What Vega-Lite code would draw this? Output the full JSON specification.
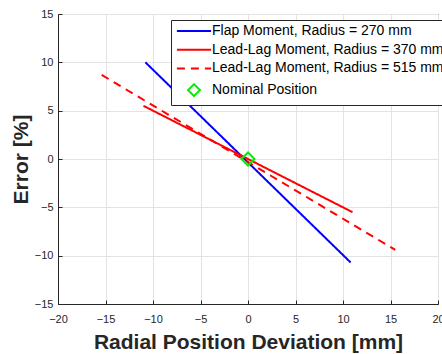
{
  "$schema": "https://vega.github.io/schema/vega-lite/v6.json",
  "width": 380,
  "height": 290,
  "autosize": {"type": "none"},
  "padding": {"left": 58, "top": 14, "right": 4, "bottom": 50},
  "background": "white",
  "config": {
    "font": "Liberation Sans",
    "view": {"stroke": "#262626", "strokeWidth": 1},
    "axis": {
      "domainColor": "#262626",
      "tickColor": "#262626",
      "labelColor": "#262626",
      "titleColor": "#262626",
      "labelFont": "Liberation Sans",
      "titleFont": "Liberation Sans",
      "labelFontSize": 11,
      "titleFontSize": 21,
      "titleFontWeight": "bold",
      "gridColor": "#e3e3e3",
      "gridWidth": 1,
      "tickSize": -4
    }
  },
  "data": {
    "values": [
      {"x": -10.8, "y": 10.0, "s": "Flap Moment, Radius = 270 mm"},
      {"x": 10.8, "y": -10.7, "s": "Flap Moment, Radius = 270 mm"},
      {"x": -11.0, "y": 5.5, "s": "Lead-Lag Moment, Radius = 370 mm"},
      {"x": 11.0, "y": -5.5, "s": "Lead-Lag Moment, Radius = 370 mm"},
      {"x": -15.4, "y": 8.7, "s": "Lead-Lag Moment, Radius = 515 mm"},
      {"x": 15.5, "y": -9.4, "s": "Lead-Lag Moment, Radius = 515 mm"},
      {"x": 0, "y": 0, "s": "Nominal Position"}
    ]
  },
  "encoding": {
    "x": {
      "field": "x", "type": "quantitative",
      "scale": {"domain": [-20, 20], "nice": false},
      "axis": {"values": [-20, -15, -10, -5, 0, 5, 10, 15, 20], "title": "Radial Position Deviation [mm]", "labelPadding": 13, "titlePadding": 7, "labelFlush": false}
    },
    "y": {
      "field": "y", "type": "quantitative",
      "scale": {"domain": [-15, 15], "nice": false},
      "axis": {"values": [-15, -10, -5, 0, 5, 10, 15], "title": "Error [%]", "labelPadding": 9, "titlePadding": 3}
    },
    "color": {
      "field": "s", "type": "nominal",
      "scale": {
        "domain": ["Flap Moment, Radius = 270 mm", "Lead-Lag Moment, Radius = 370 mm", "Lead-Lag Moment, Radius = 515 mm", "Nominal Position"],
        "range": ["#0000ff", "#ff0000", "#ff0000", "#00ee00"]
      },
      "legend": {
        "title": null,
        "orient": "none",
        "legendX": 113,
        "legendY": 6,
        "padding": 4,
        "strokeColor": "#262626",
        "fillColor": "white",
        "labelFontSize": 14,
        "labelColor": "#000000",
        "labelFont": "Liberation Sans",
        "labelOffset": 11,
        "labelLimit": 400,
        "rowPadding": 4.7,
        "symbolType": "M-3,0H3",
        "symbolSize": 130,
        "symbolOffset": 12,
        "symbolStrokeWidth": 2,
        "encode": {
          "symbols": {
            "update": {
              "shape": {"signal": "datum.label == 'Nominal Position' ? 'diamond' : 'M-3,0H3'"},
              "size": {"signal": "datum.label == 'Nominal Position' ? 140 : 130"},
              "fill": {"value": "transparent"}
            }
          }
        }
      }
    }
  },
  "layer": [
    {
      "transform": [{"filter": "datum.s != 'Nominal Position'"}],
      "mark": {"type": "line", "strokeWidth": 2},
      "encoding": {
        "strokeDash": {
          "field": "s", "type": "nominal",
          "scale": {
            "domain": ["Flap Moment, Radius = 270 mm", "Lead-Lag Moment, Radius = 370 mm", "Lead-Lag Moment, Radius = 515 mm", "Nominal Position"],
            "range": [[1, 0], [1, 0], [8, 6], [1, 0]]
          },
          "legend": {"title": null}
        }
      }
    },
    {
      "transform": [{"filter": "datum.s == 'Nominal Position'"}],
      "mark": {"type": "point", "shape": "diamond", "filled": false, "size": 170, "strokeWidth": 2, "opacity": 1}
    }
  ]
}
